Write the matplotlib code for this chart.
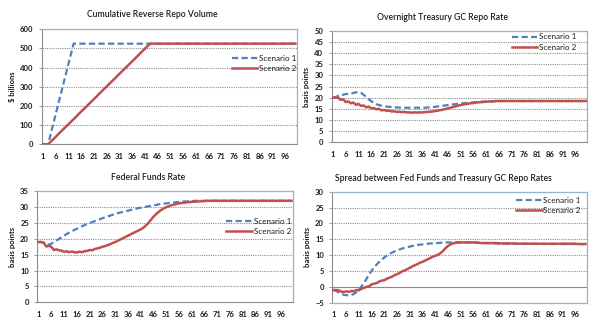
import matplotlib
matplotlib.use("Agg")
import matplotlib.pyplot as plt
import numpy as np

plt.rcParams['font.family'] = ['Lato', 'DejaVu Sans']

# Weekly periods on the category axis
periods = list(range(1, 101))
tick_labels = [str(p) for p in range(1, 101, 5)]

# Cumulative reverse repo volume ($ billions)
vol_s1 = [0, 0, 0, 52, 105, 157, 210, 262, 315, 367,
          420, 472, 525, 525, 525, 525, 525, 525, 525, 525,
          525, 525, 525, 525, 525, 525, 525, 525, 525, 525,
          525, 525, 525, 525, 525, 525, 525, 525, 525, 525,
          525, 525, 525, 525, 525, 525, 525, 525, 525, 525,
          525, 525, 525, 525, 525, 525, 525, 525, 525, 525,
          525, 525, 525, 525, 525, 525, 525, 525, 525, 525,
          525, 525, 525, 525, 525, 525, 525, 525, 525, 525,
          525, 525, 525, 525, 525, 525, 525, 525, 525, 525,
          525, 525, 525, 525, 525, 525, 525, 525, 525, 525]
vol_s2 = [0, 0, 0, 13, 26, 39, 53, 66, 79, 92,
          105, 118, 131, 144, 158, 171, 184, 197, 210, 223,
          236, 249, 263, 276, 289, 302, 315, 328, 341, 354,
          368, 381, 394, 407, 420, 433, 446, 459, 473, 486,
          499, 512, 525, 525, 525, 525, 525, 525, 525, 525,
          525, 525, 525, 525, 525, 525, 525, 525, 525, 525,
          525, 525, 525, 525, 525, 525, 525, 525, 525, 525,
          525, 525, 525, 525, 525, 525, 525, 525, 525, 525,
          525, 525, 525, 525, 525, 525, 525, 525, 525, 525,
          525, 525, 525, 525, 525, 525, 525, 525, 525, 525]

# Overnight Treasury GC repo rate (basis points)
repo_s1 = [20.0, 20.2, 20.8, 21.2, 21.3, 21.6, 21.7, 22.0, 22.1, 22.4,
           22.5, 22.2, 21.3, 20.3, 19.3, 18.4, 17.7, 17.1, 16.7, 16.4,
           16.2, 16.0, 15.9, 15.8, 15.7, 15.6, 15.6, 15.5, 15.5, 15.5,
           15.5, 15.5, 15.5, 15.5, 15.5, 15.5, 15.5, 15.6, 15.7, 15.8,
           15.9, 16.1, 16.2, 16.4, 16.5, 16.7, 16.8, 17.0, 17.1, 17.3,
           17.4, 17.5, 17.6, 17.7, 17.8, 17.9, 18.0, 18.0, 18.1, 18.2,
           18.2, 18.3, 18.3, 18.4, 18.4, 18.5, 18.5, 18.5, 18.5, 18.5,
           18.5, 18.5, 18.5, 18.5, 18.5, 18.5, 18.5, 18.5, 18.5, 18.5,
           18.5, 18.5, 18.5, 18.5, 18.5, 18.5, 18.5, 18.5, 18.5, 18.5,
           18.5, 18.5, 18.5, 18.5, 18.5, 18.5, 18.5, 18.5, 18.5, 18.5]
repo_s2 = [20.0, 20.0, 20.0, 19.0, 19.3, 18.0, 18.3, 17.5, 17.8, 16.8,
           17.2, 16.3, 16.5, 15.7, 16.0, 15.2, 15.3, 14.8, 15.0, 14.3,
           14.5, 14.1, 14.2, 13.8, 13.9, 13.6, 13.7, 13.5, 13.6, 13.4,
           13.4, 13.3, 13.4, 13.3, 13.4, 13.4, 13.5, 13.6, 13.7, 13.8,
           14.0, 14.2, 14.4, 14.6, 14.9, 15.2, 15.5, 15.8, 16.1, 16.4,
           16.7, 16.9, 17.1, 17.3, 17.5, 17.6, 17.8, 17.9, 18.0, 18.1,
           18.2, 18.3, 18.3, 18.4, 18.5, 18.5, 18.5, 18.5, 18.5, 18.5,
           18.5, 18.5, 18.5, 18.5, 18.5, 18.5, 18.5, 18.5, 18.5, 18.5,
           18.5, 18.5, 18.5, 18.5, 18.5, 18.5, 18.5, 18.5, 18.5, 18.5,
           18.5, 18.5, 18.5, 18.5, 18.5, 18.5, 18.5, 18.5, 18.5, 18.5]

# Federal funds rate (basis points)
ff_s1 = [19.0, 19.0, 18.8, 18.3, 18.2, 18.5, 19.0, 19.5, 20.0, 20.5,
         21.0, 21.5, 22.0, 22.4, 22.8, 23.2, 23.6, 24.0, 24.3, 24.7,
         25.0, 25.3, 25.6, 25.9, 26.2, 26.5, 26.8, 27.1, 27.3, 27.6,
         27.8, 28.1, 28.3, 28.5, 28.7, 28.9, 29.1, 29.3, 29.5, 29.7,
         29.8, 30.0, 30.1, 30.3, 30.4, 30.6, 30.7, 30.9, 31.0, 31.1,
         31.2, 31.3, 31.4, 31.5, 31.6, 31.6, 31.7, 31.8, 31.8, 31.9,
         31.9, 32.0, 32.0, 32.0, 32.0, 32.0, 32.0, 32.0, 32.0, 32.0,
         32.0, 32.0, 32.0, 32.0, 32.0, 32.0, 32.0, 32.0, 32.0, 32.0,
         32.0, 32.0, 32.0, 32.0, 32.0, 32.0, 32.0, 32.0, 32.0, 32.0,
         32.0, 32.0, 32.0, 32.0, 32.0, 32.0, 32.0, 32.0, 32.0, 32.0]
ff_s2 = [19.0, 19.0, 18.8, 17.6, 17.8, 17.5, 16.5, 16.7, 16.4, 16.3,
         15.9, 16.1, 15.8, 16.0, 15.8, 15.7, 16.0, 15.8, 16.1, 16.2,
         16.5, 16.4, 16.8, 17.0, 17.2, 17.5, 17.7, 18.0, 18.3, 18.7,
         19.0, 19.4, 19.8, 20.2, 20.6, 21.0, 21.4, 21.8, 22.2, 22.6,
         23.0, 23.5, 24.2, 25.0, 26.0, 27.0, 27.8, 28.5, 29.1, 29.6,
         30.0, 30.3, 30.6, 30.8, 31.0, 31.2, 31.3, 31.4, 31.5, 31.6,
         31.7, 31.7, 31.8, 31.8, 31.9, 31.9, 32.0, 32.0, 32.0, 32.0,
         32.0, 32.0, 32.0, 32.0, 32.0, 32.0, 32.0, 32.0, 32.0, 32.0,
         32.0, 32.0, 32.0, 32.0, 32.0, 32.0, 32.0, 32.0, 32.0, 32.0,
         32.0, 32.0, 32.0, 32.0, 32.0, 32.0, 32.0, 32.0, 32.0, 32.0]

# Spread between fed funds and Treasury GC repo (basis points)
spread_s1 = [-1.0, -1.3, -1.8, -2.2, -2.5, -2.6, -2.7, -2.6, -2.2, -1.7,
             -0.9, 0.2, 1.3, 2.6, 4.0, 5.1, 6.2, 7.1, 7.9, 8.6,
             9.3, 9.9, 10.4, 10.8, 11.2, 11.5, 11.8, 12.1, 12.3, 12.5,
             12.7, 12.9, 13.0, 13.2, 13.3, 13.4, 13.5, 13.6, 13.7, 13.7,
             13.8, 13.8, 13.9, 13.9, 14.0, 14.0, 14.0, 14.0, 14.0, 14.0,
             14.0, 14.0, 14.0, 14.0, 14.0, 13.9, 13.9, 13.9, 13.8, 13.8,
             13.8, 13.8, 13.7, 13.7, 13.7, 13.7, 13.7, 13.6, 13.6, 13.6,
             13.6, 13.6, 13.6, 13.6, 13.6, 13.6, 13.6, 13.6, 13.6, 13.6,
             13.5, 13.5, 13.5, 13.5, 13.5, 13.5, 13.5, 13.5, 13.5, 13.5,
             13.5, 13.5, 13.5, 13.5, 13.5, 13.5, 13.5, 13.5, 13.5, 13.5]
spread_s2 = [-1.0, -1.0, -1.1, -1.5, -1.6, -1.4, -1.6, -1.3, -1.4, -1.0,
             -1.1, -0.6, -0.3, 0.0, 0.2, 0.8, 1.0, 1.2, 1.7, 2.0,
             2.1, 2.6, 2.9, 3.2, 3.7, 4.0, 4.4, 4.9, 5.2, 5.6,
             6.0, 6.5, 6.8, 7.2, 7.6, 7.9, 8.3, 8.7, 9.1, 9.5,
             9.8, 10.1, 10.6, 11.3, 12.2, 12.9, 13.4, 13.7, 13.9, 14.0,
             14.0, 14.0, 14.0, 14.0, 14.0, 14.0, 14.0, 13.9, 13.8, 13.8,
             13.8, 13.8, 13.8, 13.8, 13.8, 13.7, 13.7, 13.7, 13.7, 13.7,
             13.7, 13.7, 13.6, 13.6, 13.6, 13.6, 13.6, 13.6, 13.6, 13.6,
             13.6, 13.6, 13.6, 13.6, 13.6, 13.6, 13.6, 13.6, 13.6, 13.6,
             13.6, 13.6, 13.6, 13.6, 13.6, 13.6, 13.5, 13.5, 13.5, 13.5]

BLUE = '#4F81BD'
RED = '#C0504D'
AXIS_GRAY = '#8C8C8C'
BORDER_BLUE = '#95B3D7'
TEXT = '#1A1A1A'

W, H = 600, 332
fig = plt.figure(figsize=(W / 100, H / 100), dpi=100)
fig.patch.set_facecolor('white')


def px_axes(left, top, right, bottom):
    return fig.add_axes([left / W, 1 - bottom / H, (right - left) / W, (bottom - top) / H])


def style(ax, title, title_xy, ylabel, ylim, ystep, leg_anchor, zero_line=False):
    ax.set_xlim(0.5, 100.5)
    ax.set_ylim(*ylim)
    ax.set_yticks(np.arange(ylim[0], ylim[1] + ystep / 2, ystep))
    ax.set_xticks(range(1, 101, 5))
    ax.set_xticklabels(tick_labels)
    ax.tick_params(axis='x', length=0, pad=6, labelsize=5.5, colors=TEXT)
    ax.tick_params(axis='y', length=2, width=0.6, color=AXIS_GRAY, pad=4,
                   labelsize=5.5, colors=TEXT)
    for lab in ax.get_xticklabels() + ax.get_yticklabels():
        lab.set_fontweight('bold')
        lab.set_color(TEXT)
    ax.grid(axis='y', color='#8F8F8F', linestyle=(0, (1, 1)), linewidth=0.8)
    ax.set_axisbelow(True)
    for side in ('top', 'right'):
        ax.spines[side].set_color(BORDER_BLUE)
        ax.spines[side].set_linewidth(0.9)
    ax.spines['left'].set_color(AXIS_GRAY)
    ax.spines['left'].set_linewidth(0.8)
    if zero_line:
        ax.spines['bottom'].set_color(BORDER_BLUE)
        ax.spines['bottom'].set_linewidth(0.9)
        ax.axhline(0, color=AXIS_GRAY, linewidth=0.8, zorder=1.5)
    else:
        ax.spines['bottom'].set_color(AXIS_GRAY)
        ax.spines['bottom'].set_linewidth(0.8)
    # chart title centred over the whole chart block
    fig.text(title_xy[0] / W, 1 - title_xy[1] / H, title, fontsize=6.2,
             color=TEXT, ha='center', va='center', fontweight='semibold')
    ax.set_ylabel(ylabel, fontsize=5.5, fontweight='bold', color=TEXT, labelpad=3)
    leg = ax.legend(loc='center left', bbox_to_anchor=leg_anchor, frameon=False,
                    fontsize=5.8, handlelength=3.2, handletextpad=0.2,
                    labelspacing=0.4, borderpad=0, borderaxespad=0)
    for t in leg.get_texts():
        t.set_color(TEXT)


def draw(ax, s1, s2):
    ax.plot(periods, s1, color=BLUE, linestyle=(0, (2.8, 1.5)), linewidth=1.6,
            label='Scenario 1', zorder=3)
    ax.plot(periods, s2, color=RED, linewidth=1.8, label='Scenario 2', zorder=4)


ax1 = px_axes(41.7, 29.3, 296.7, 144.3)
draw(ax1, vol_s1, vol_s2)
style(ax1, 'Cumulative Reverse Repo Volume', (152.5, 14.5), '$ billions',
      (0, 600), 100, (0.745, 0.705))

ax2 = px_axes(331.7, 30.7, 587.0, 142.3)
draw(ax2, repo_s1, repo_s2)
style(ax2, 'Overnight Treasury GC Repo Rate', (442.5, 17.0), 'basis points',
      (0, 50), 5, (0.705, 0.898))

ax3 = px_axes(37.3, 191.3, 292.7, 302.3)
draw(ax3, ff_s1, ff_s2)
style(ax3, 'Federal Funds Rate', (148.5, 177.7), 'basis points',
      (0, 35), 5, (0.74, 0.686))

ax4 = px_axes(332.3, 191.7, 586.7, 302.7)
draw(ax4, spread_s1, spread_s2)
style(ax4, 'Spread between Fed Funds and Treasury GC Repo Rates', (443.5, 178.3),
      'basis points', (-5, 30), 5, (0.722, 0.876), zero_line=True)

fig.savefig('out.png', dpi=100, facecolor='white')
